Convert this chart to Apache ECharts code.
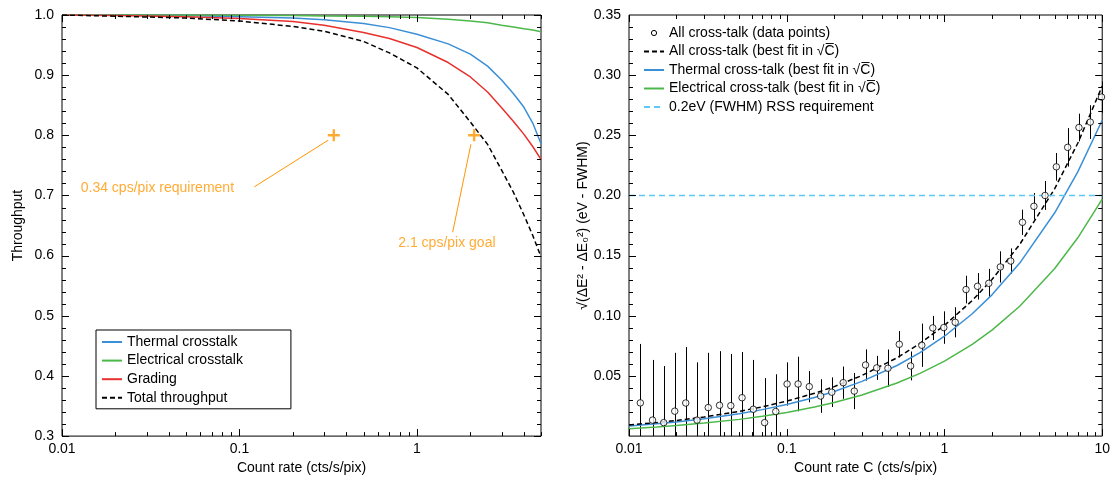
<!DOCTYPE html>
<html><head><meta charset="utf-8">
<script src="https://cdn.jsdelivr.net/npm/echarts@6/dist/echarts.min.js"></script>
<style>html,body{margin:0;padding:0;background:#fff}#c{width:1113px;height:480px}</style>
</head><body><div id="c"></div>
<script>
const FONT = 'Liberation Sans, Arial, Helvetica, DejaVu Sans, sans-serif';

// ---------- Left panel: throughput vs count rate ----------
const rateL       = [0.01, 0.02, 0.05, 0.1, 0.2, 0.3, 0.5, 0.7, 1.0, 1.5, 2.0, 2.5, 3.0, 3.5, 4.0, 4.5, 5.0];
const thermalT    = [1.0, 0.9995, 0.999, 0.997, 0.995, 0.992, 0.986, 0.979, 0.968, 0.952, 0.935, 0.915, 0.892, 0.869, 0.847, 0.820, 0.786];
const electricalT = [1.0, 1.0, 1.0, 0.9995, 0.999, 0.9985, 0.998, 0.997, 0.996, 0.993, 0.990, 0.987, 0.983, 0.980, 0.977, 0.975, 0.972];
const gradingT    = [1.0, 0.999, 0.997, 0.994, 0.989, 0.983, 0.971, 0.961, 0.946, 0.921, 0.897, 0.872, 0.846, 0.823, 0.802, 0.781, 0.760];
const totalT      = [1.0, 0.998, 0.995, 0.990, 0.981, 0.973, 0.956, 0.937, 0.912, 0.868, 0.822, 0.785, 0.742, 0.705, 0.668, 0.633, 0.598];
const markRates = [0.34, 2.1];
const markLevel = 0.8;
const noteTexts = ['0.34 cps/pix requirement', '2.1 cps/pix goal'];
const noteAt    = [[0.01274, 0.7126], [0.784, 0.6207]];
const arrowFrom = [[0.1212, 0.7143], [1.589, 0.6388]];
const arrowTo   = [[0.3165, 0.792], [2.014, 0.785]];
const xLabelsL = [0.01, 0.1, 1];
const yTicksL = [0.3, 0.4, 0.5, 0.6, 0.7, 0.8, 0.9, 1.0];

// ---------- Right panel: energy resolution degradation ----------
const rateR  = [0.0118,0.0141,0.0166,0.0195,0.0229,0.0270,0.0318,0.0375,0.0442,0.0521,0.0614,0.0724,0.0852,0.1005,
                0.118,0.139,0.164,0.193,0.228,0.268,0.316,0.372,0.438,0.517,0.610,0.718,0.843,0.99,
                1.17,1.37,1.62,1.91,2.26,2.63,3.12,3.69,4.34,5.12,6.04,7.12,8.40,9.90];
const noiseR = [0.0276,0.0133,0.0112,0.0207,0.0275,0.0133,0.0237,0.0256,0.0253,0.0319,0.0223,0.0112,0.0204,0.0433,
                0.0433,0.0411,0.0333,0.0365,0.0444,0.0374,0.0591,0.0567,0.0564,0.0763,0.0583,0.0755,0.0899,0.0902,
                0.0946,0.1218,0.1245,0.1270,0.1406,0.1455,0.1777,0.1910,0.2000,0.2238,0.2400,0.2565,0.2610,0.2818];
const errR   = [0.049,0.050,0.047,0.0485,0.0466,0.048,0.0455,0.045,0.043,0.038,0.041,0.037,0.031,0.018,
                0.0227,0.013,0.014,0.0123,0.0134,0.015,0.013,0.010,0.0156,0.011,0.012,0.018,0.010,0.0135,
                0.0125,0.0115,0.011,0.012,0.013,0.0105,0.0105,0.011,0.012,0.0115,0.016,0.0115,0.014,0.013];
const fitRate       = [0.01,0.015,0.02,0.03,0.05,0.07,0.1,0.15,0.2,0.3,0.5,0.7,1,1.5,2,3,5,7,10];
const fitAll        = [0.0092,0.0113,0.0130,0.0159,0.0206,0.0243,0.0291,0.0356,0.0411,0.0504,0.0651,0.0770,0.0920,0.1127,0.1301,0.1593,0.2057,0.2434,0.2909];
const fitThermal    = [0.0083,0.0102,0.0117,0.0144,0.0186,0.0220,0.0262,0.0321,0.0371,0.0455,0.0587,0.0694,0.0830,0.1017,0.1174,0.1438,0.1856,0.2196,0.2625];
const fitElectrical = [0.0062,0.0076,0.0088,0.0108,0.0139,0.0165,0.0197,0.0241,0.0279,0.0341,0.0441,0.0521,0.0623,0.0763,0.0881,0.1079,0.1393,0.1648,0.1970];
const reqRange = [0.01, 10];
const reqLevel = 0.2;
const xLabelsR = [0.01, 0.1, 1, 10];

// ---------- styles ----------
const BLUE = '#3b8fd6', GREEN = '#4db84a', RED = '#e8302c', ORANGE = '#ff9600', REQ = '#5cc8f8';
const zip = (xs, ys) => xs.map((x, i) => [x, ys[i]]);

function minorLog(decades, max) {
  const out = [];
  decades.forEach(d => { for (let k = 2; k <= 9; k++) { const v = +(d * k).toPrecision(3); if (v <= max) out.push(v); } });
  return out;
}
function tickData(xMajor, xMinor, yMajor, yMinor, xMin, yMin) {
  const d = [];
  xMajor.forEach(v => d.push([v, yMin, 0, 7]));
  xMinor.forEach(v => d.push([v, yMin, 0, 4]));
  yMajor.forEach(v => d.push([xMin, v, 1, 7]));
  yMinor.forEach(v => d.push([xMin, v, 1, 4]));
  return d;
}
function tickRender(params, api) {
  const cs = params.coordSys;
  const p = api.coord([api.value(0), api.value(1)]);
  const kind = api.value(2), len = api.value(3);
  const st = {stroke: '#000', lineWidth: 1};
  if (kind === 0) {
    const x = Math.round(p[0]) + 0.5, yb = cs.y + cs.height, yt = cs.y;
    return {type: 'group', children: [
      {type: 'line', shape: {x1: x, y1: yb, x2: x, y2: yb - len}, style: st},
      {type: 'line', shape: {x1: x, y1: yt, x2: x, y2: yt + len}, style: st}]};
  }
  const y = Math.round(p[1]) + 0.5, xl = cs.x, xr = cs.x + cs.width;
  return {type: 'group', children: [
    {type: 'line', shape: {x1: xl, y1: y, x2: xl + len, y2: y}, style: st},
    {type: 'line', shape: {x1: xr, y1: y, x2: xr - len, y2: y}, style: st}]};
}

const yMinorL = []; for (let i = 0; i <= 35; i++) { const v = +(0.3 + i * 0.02).toFixed(2); if (v <= 1.0 && Math.abs(v * 10 - Math.round(v * 10)) > 1e-6) yMinorL.push(v); }
const yMajorR = [0.05,0.10,0.15,0.20,0.25,0.30];
const yMinorR = []; for (let i = 1; i < 35; i++) { if (i % 5) yMinorR.push(+(i * 0.01).toFixed(2)); }

const circleIcon = 'image://data:image/svg+xml;charset=utf-8,' + encodeURIComponent(
  '<svg xmlns="http://www.w3.org/2000/svg" width="20" height="14"><circle cx="10" cy="7" r="2.6" fill="white" stroke="black" stroke-width="1"/></svg>');

const axisLabelStyle = {fontSize: 14, color: '#000', fontFamily: FONT};
const nameStyle = {fontSize: 14, color: '#000', fontFamily: FONT};
// line series: hide the legend's symbol dot, keep only the line sample
const lineSeries = (name, xi, xs, ys, color, dash, width) => ({
  name, type: 'line', xAxisIndex: xi, yAxisIndex: xi, data: zip(xs, ys),
  symbol: 'none', lineStyle: {color, width: width || 1.5, type: dash || 'solid'}, itemStyle: {color, opacity: 0}
});

const chart = echarts.init(document.getElementById('c'), null, {renderer: 'canvas'});
chart.setOption({
  animation: false,
  backgroundColor: '#fff',
  textStyle: {fontFamily: FONT},
  grid: [
    {left: 62, top: 15, width: 479, height: 426, show: true, borderColor: '#000', borderWidth: 1, backgroundColor: 'transparent'},
    {left: 629, top: 15, width: 477, height: 428, show: true, borderColor: '#000', borderWidth: 1, backgroundColor: 'transparent'}
  ],
  xAxis: [
    {gridIndex: 0, type: 'log', logBase: 10, min: 0.01, max: 5,
     axisLine: {show: false}, axisTick: {show: false}, splitLine: {show: false},
     axisLabel: Object.assign({margin: 6, showMaxLabel: false, formatter: v => String(+(+v).toPrecision(3))}, axisLabelStyle),
     name: 'Count rate (cts/s/pix)', nameLocation: 'middle', nameGap: 20, nameTextStyle: nameStyle},
    {gridIndex: 1, type: 'log', logBase: 10, min: 0.01, max: 10,
     axisLine: {show: false}, axisTick: {show: false}, splitLine: {show: false},
     axisLabel: Object.assign({margin: 6, formatter: v => String(+(+v).toPrecision(3))}, axisLabelStyle),
     name: 'Count rate C (cts/s/pix)', nameLocation: 'middle', nameGap: 20, nameTextStyle: nameStyle}
  ],
  yAxis: [
    {gridIndex: 0, type: 'value', min: 0.3, max: 1.0, interval: 0.1,
     axisLine: {show: false}, axisTick: {show: false}, splitLine: {show: false},
     axisLabel: Object.assign({margin: 8, formatter: v => (+v).toFixed(1)}, axisLabelStyle),
     name: 'Throughput', nameLocation: 'middle', nameGap: 37, nameTextStyle: nameStyle},
    {gridIndex: 1, type: 'value', min: 0, max: 0.35, interval: 0.05,
     axisLine: {show: false}, axisTick: {show: false}, splitLine: {show: false},
     axisLabel: Object.assign({margin: 8, showMinLabel: false, formatter: v => (+v).toFixed(2)}, axisLabelStyle),
     name: '√(ΔE² - ΔE₀²) (eV - FWHM)', nameLocation: 'middle', nameGap: 39, nameTextStyle: nameStyle}
  ],
  legend: [
    {data: ['Thermal crosstalk', 'Electrical crosstalk', 'Grading', 'Total throughput'],
     orient: 'vertical', left: 96, top: 330, itemWidth: 20, itemHeight: 14, itemGap: 4.6,
     padding: [5, 48, 4, 5], borderColor: '#000', borderWidth: 1, backgroundColor: '#fff',
     selectedMode: false, textStyle: {fontSize: 14, color: '#000', fontFamily: FONT}},
    {data: [{name: 'All cross-talk (data points)', icon: circleIcon, itemStyle: {opacity: 1}},
            'All cross-talk (best fit in √C̅)', 'Thermal cross-talk (best fit in √C̅)',
            'Electrical cross-talk (best fit in √C̅)', '0.2eV (FWHM) RSS requirement'],
     orient: 'vertical', left: 643, top: 26, itemWidth: 20, itemHeight: 14, itemGap: 4.5, padding: 0,
     selectedMode: false, textStyle: {fontSize: 14, color: '#000', fontFamily: FONT}}
  ],
  series: [
    // left ticks
    {type: 'custom', xAxisIndex: 0, yAxisIndex: 0, silent: true, z: 5,
     data: tickData(xLabelsL, minorLog([0.01, 0.1, 1], 5), yTicksL, yMinorL, 0.01, 0.3), renderItem: tickRender},
    // right ticks
    {type: 'custom', xAxisIndex: 1, yAxisIndex: 1, silent: true, z: 5,
     data: tickData(xLabelsR, minorLog([0.01, 0.1, 1], 10), yMajorR, yMinorR, 0.01, 0), renderItem: tickRender},

    lineSeries('Thermal crosstalk', 0, rateL, thermalT, BLUE),
    lineSeries('Electrical crosstalk', 0, rateL, electricalT, GREEN),
    lineSeries('Grading', 0, rateL, gradingT, RED),
    lineSeries('Total throughput', 0, rateL, totalT, '#000', [5, 3]),

    {name: 'marks', type: 'scatter', xAxisIndex: 0, yAxisIndex: 0, z: 6,
     data: markRates.map(r => [r, markLevel]),
     symbol: 'path://M4,0H6V4H10V6H6V10H4V6H0V4H4Z', symbolSize: 12, itemStyle: {color: ORANGE}},
    {name: 'notes', type: 'scatter', xAxisIndex: 0, yAxisIndex: 0, z: 6, silent: true,
     data: noteTexts.map((t, i) => ({name: t, value: noteAt[i]})),
     symbolSize: 0.1, itemStyle: {color: 'transparent'},
     label: {show: true, position: 'right', distance: 0, formatter: '{b}', color: ORANGE, fontSize: 14, fontFamily: FONT},
     markLine: {silent: true, symbol: ['none', 'arrow'], symbolSize: [0, 6],
       lineStyle: {color: ORANGE, width: 1, type: 'solid'}, label: {show: false},
       data: arrowFrom.map((f, i) => [{coord: f}, {coord: arrowTo[i]}])}},

    // right panel
    {name: 'errorbars', type: 'custom', xAxisIndex: 1, yAxisIndex: 1, z: 3, silent: true,
     data: rateR.map((r, i) => [r, noiseR[i], errR[i]]),
     renderItem: function (params, api) {
       const cs = params.coordSys;
       const c = api.value(0), v = api.value(1), e = api.value(2);
       const t = api.coord([c, v + e]), b = api.coord([c, v - e]);
       const x = Math.round(t[0]) + 0.5;
       return {type: 'line', shape: {x1: x, y1: Math.max(t[1], cs.y), x2: x, y2: Math.min(b[1], cs.y + cs.height)},
               style: {stroke: '#000', lineWidth: 1}};
     }},
    lineSeries('Electrical cross-talk (best fit in √C̅)', 1, fitRate, fitElectrical, GREEN),
    lineSeries('Thermal cross-talk (best fit in √C̅)', 1, fitRate, fitThermal, BLUE),
    lineSeries('All cross-talk (best fit in √C̅)', 1, fitRate, fitAll, '#000', [5, 3]),
    lineSeries('0.2eV (FWHM) RSS requirement', 1, reqRange, [reqLevel, reqLevel], REQ, [6, 4], 1.6),
    {name: 'All cross-talk (data points)', type: 'scatter', xAxisIndex: 1, yAxisIndex: 1, z: 4,
     data: zip(rateR, noiseR), symbol: 'circle', symbolSize: 6.5,
     itemStyle: {color: '#fff', borderColor: '#000', borderWidth: 1}}
  ]
});
</script>
</body></html>
